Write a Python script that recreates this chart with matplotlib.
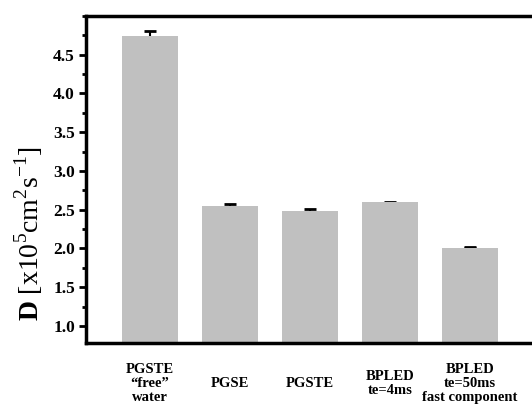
import numpy as np
import matplotlib
matplotlib.use('Agg')
import matplotlib.pyplot as plt
from matplotlib.ticker import MultipleLocator

# diffusion coefficients per sequence
labels = ['PGSTE\n\u201cfree\u201d\nwater', 'PGSE', 'PGSTE',
          'BPLED\nte=4ms', 'BPLED\nte=50ms\nfast component']
d_vals = [4.735, 2.547, 2.482, 2.594, 2.010]
d_err = [0.065, 0.025, 0.026, 0.010, 0.008]

plt.rcParams['font.family'] = 'Liberation Serif'
plt.rcParams['mathtext.fontset'] = 'custom'
plt.rcParams['mathtext.rm'] = 'Liberation Serif'
plt.rcParams['mathtext.bf'] = 'Liberation Serif:bold'

fig = plt.figure(figsize=(5.32, 4.07), dpi=100)
ax = fig.add_axes([0.1617, 0.157, 0.842, 0.804])

x = np.arange(1, len(d_vals) + 1)
# error bars sit behind the bars so only the upper half shows
ax.errorbar(x, d_vals, yerr=d_err, fmt='none', ecolor='black',
            elinewidth=1.5, capsize=4, capthick=2, zorder=1)
ax.bar(x, d_vals, width=0.71, color='#c0c0c0', edgecolor='none', zorder=2)

ax.set_xlim(0.2, 5.8)
ax.set_ylim(0.78, 5.0)
ax.yaxis.set_minor_locator(MultipleLocator(0.25))
ax.set_yticks(np.arange(1.0, 4.6, 0.5))
ax.set_yticklabels(['%.1f' % v for v in np.arange(1.0, 4.6, 0.5)],
                   fontweight='bold', fontsize=12.5)

ax.set_xticks(x)
ax.set_xticklabels(labels, fontweight='bold', fontsize=10.5,
                   va='center', linespacing=1.1)
ax.tick_params(axis='x', length=0, pad=29)
ax.tick_params(axis='y', which='major', direction='out', length=5,
               width=2, pad=3)
ax.tick_params(axis='y', which='minor', direction='out', length=3,
               width=2)

ax.set_ylabel(r'$\mathbf{D}$ [x10$^{5}$cm$^{2}$s$^{-1}$]', fontsize=20,
              va='center')
ax.yaxis.set_label_coords(-0.128, 0.336)

for side in ['left', 'bottom', 'top', 'right']:
    ax.spines[side].set_linewidth(2.5)

fig.savefig('out.png', dpi=100)
